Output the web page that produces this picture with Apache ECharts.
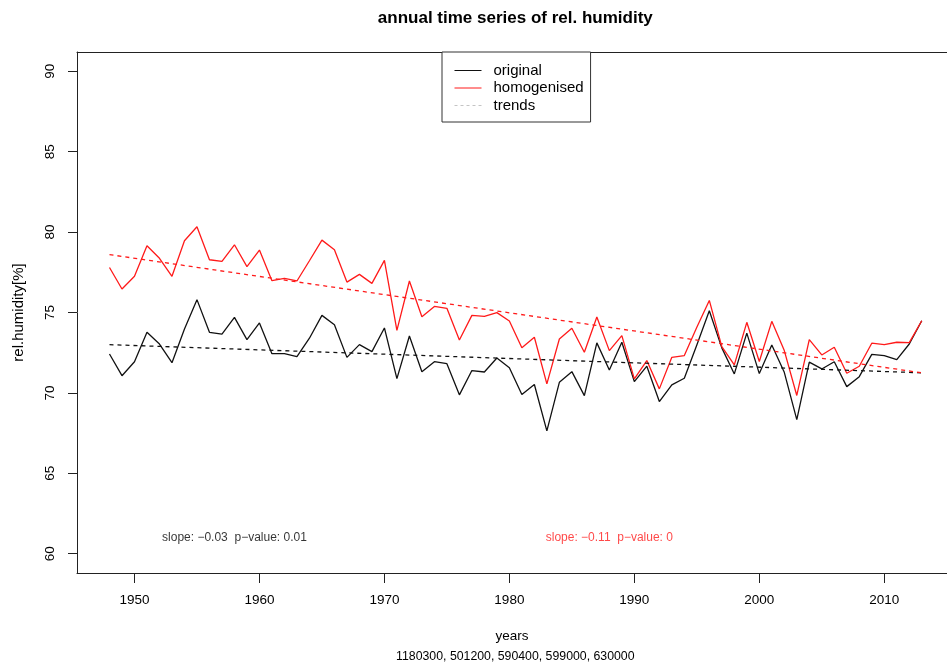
<!DOCTYPE html>
<html>
<head>
<meta charset="utf-8">
<title>annual time series of rel. humidity</title>
<script src="https://cdn.jsdelivr.net/npm/echarts@6/dist/echarts.min.js"></script>
<style>
  html, body { margin: 0; padding: 0; background: #fff; }
  #main { width: 947px; height: 662px; }
</style>
</head>
<body>
<div id="main"></div>
<script>
// Annual relative humidity, station series 1948-2013
const years = [
  1948, 1949, 1950, 1951, 1952, 1953, 1954, 1955, 1956, 1957, 1958,
  1959, 1960, 1961, 1962, 1963, 1964, 1965, 1966, 1967, 1968, 1969,
  1970, 1971, 1972, 1973, 1974, 1975, 1976, 1977, 1978, 1979, 1980,
  1981, 1982, 1983, 1984, 1985, 1986, 1987, 1988, 1989, 1990, 1991,
  1992, 1993, 1994, 1995, 1996, 1997, 1998, 1999, 2000, 2001, 2002,
  2003, 2004, 2005, 2006, 2007, 2008, 2009, 2010, 2011, 2012, 2013
];

const original = [
  72.42, 71.07, 71.94, 73.77, 73.04, 71.88, 73.98, 75.80, 73.77, 73.66, 74.70,
  73.31, 74.35, 72.44, 72.44, 72.26, 73.40, 74.82, 74.24, 72.21, 73.00, 72.57,
  74.04, 70.89, 73.54, 71.32, 71.94, 71.82, 69.88, 71.39, 71.30, 72.17, 71.57,
  69.90, 70.52, 67.64, 70.66, 71.32, 69.83, 73.11, 71.43, 73.15, 70.70, 71.66,
  69.46, 70.50, 70.91, 72.98, 75.11, 72.80, 71.18, 73.72, 71.20, 72.98, 71.28,
  68.34, 71.91, 71.49, 71.94, 70.39, 71.01, 72.40, 72.32, 72.07, 73.04, 74.49
];

const homogenised = [
  77.80, 76.46, 77.25, 79.15, 78.37, 77.25, 79.46, 80.33, 78.28, 78.18, 79.21,
  77.85, 78.88, 76.98, 77.12, 76.96, 78.22, 79.50, 78.90, 76.89, 77.37, 76.81,
  78.24, 73.89, 76.96, 74.74, 75.38, 75.26, 73.29, 74.82, 74.76, 74.99, 74.47,
  72.81, 73.46, 70.56, 73.35, 74.02, 72.53, 74.72, 72.63, 73.56, 70.87, 72.01,
  70.25, 72.21, 72.32, 74.08, 75.75, 72.88, 71.74, 74.39, 71.95, 74.45, 72.63,
  69.84, 73.31, 72.36, 72.84, 71.22, 71.66, 73.09, 73.00, 73.15, 73.13, 74.49
];

// Linear trends, start and end of the record
const trendYears = [1948, 2013];
const trendOriginal = [73.00, 71.25];
const trendHomogenised = [78.60, 71.25];

// Trend statistics
const slopeOriginal = -0.03;
const pValueOriginal = 0.01;
const slopeHomogenised = -0.11;
const pValueHomogenised = 0;

const xTicks = [1950, 1960, 1970, 1980, 1990, 2000, 2010];
const yTicks = [60, 65, 70, 75, 80, 85, 90];

const stationIds = ['1180300', '501200', '590400', '599000', '630000'];

const FONT = '"Liberation Sans", Arial, Helvetica, sans-serif';
const pairs = (xs, ys) => xs.map((x, i) => [x, ys[i]]);
const fmt = v => String(v).replace('-', '\u2212');
const statText = (s, p) => 'slope: ' + fmt(s) + '  p\u2212value: ' + fmt(p);

// x range padded 4% on the left; the right side of the frame runs past the canvas edge
const X_MIN = 1945.4, X_MAX = 2015.02;

const chart = echarts.init(document.getElementById('main'));

chart.setOption({
  animation: false,
  backgroundColor: '#fff',
  textStyle: { fontFamily: FONT },
  title: [
    {
      text: 'annual time series of rel. humidity',
      left: 510.3, top: 5, textAlign: 'center',
      textStyle: { fontFamily: FONT, fontSize: 17, fontWeight: 'bold', color: '#000' }
    },
    {
      text: stationIds.join(', '),
      left: 510.3, top: 646, textAlign: 'center',
      textStyle: { fontFamily: FONT, fontSize: 12.3, fontWeight: 'normal', color: '#000' }
    }
  ],
  grid: {
    left: 77, top: 52, right: 0, height: 521,
    show: false
  },
  legend: {
    data: ['original', 'homogenised', 'trends'],
    orient: 'vertical',
    left: 442, top: 52,
    itemWidth: 27, itemHeight: 14, itemGap: 2.5,
    padding: [11, 7, 9, 12],
    borderColor: '#333', borderWidth: 1, backgroundColor: '#fff',
    selectedMode: false,
    itemStyle: { opacity: 0 },
    lineStyle: { width: 1 },
    textStyle: { fontFamily: FONT, fontSize: 15, color: '#000', padding: [0, 0, 0, 7] }
  },
  xAxis: [
    {
      type: 'value',
      min: X_MIN, max: X_MAX,
      name: 'years', nameLocation: 'middle', nameGap: 56,
      nameTextStyle: { fontFamily: FONT, fontSize: 13.5, color: '#000' },
      axisLine: { show: true, onZero: false, lineStyle: { color: '#222', width: 1 } },
      axisTick: { show: true, length: 10, customValues: xTicks, lineStyle: { color: '#222' } },
      axisLabel: {
        customValues: xTicks, margin: 20, fontSize: 13.5, color: '#000', fontFamily: FONT,
        formatter: v => String(v)
      },
      splitLine: { show: false }
    },
    {
      // top edge of the plot frame
      type: 'value', position: 'top',
      min: X_MIN, max: X_MAX,
      axisLine: { show: true, onZero: false, lineStyle: { color: '#222', width: 1 } },
      axisTick: { show: false },
      axisLabel: { show: false },
      splitLine: { show: false }
    }
  ],
  yAxis: {
    type: 'value',
    min: 58.8, max: 91.2,
    name: 'rel.humidity[%]', nameLocation: 'middle', nameGap: 51, nameRotate: 90,
    nameTextStyle: { fontFamily: FONT, fontSize: 15, color: '#000' },
    axisLine: { show: true, lineStyle: { color: '#222', width: 1 } },
    axisTick: { show: true, length: 9, customValues: yTicks, lineStyle: { color: '#222' } },
    axisLabel: { customValues: yTicks, rotate: 90, margin: 20, fontSize: 13.5, color: '#000', fontFamily: FONT },
    splitLine: { show: false }
  },
  series: [
    {
      name: 'original', type: 'line',
      data: pairs(years, original),
      symbol: 'none', color: '#111',
      lineStyle: { color: '#111', width: 1.3 }, z: 3
    },
    {
      name: 'homogenised', type: 'line',
      data: pairs(years, homogenised),
      symbol: 'none', color: '#ff1a1a',
      lineStyle: { color: '#ff1a1a', width: 1.3 }, z: 4
    },
    {
      name: 'trend original', type: 'line',
      data: pairs(trendYears, trendOriginal),
      symbol: 'none', color: '#111',
      lineStyle: { color: '#111', width: 1.3, type: [4, 4] }, z: 5
    },
    {
      name: 'trend homogenised', type: 'line',
      data: pairs(trendYears, trendHomogenised),
      symbol: 'none', color: '#ff1a1a',
      lineStyle: { color: '#ff1a1a', width: 1.3, type: [4, 4] }, z: 5
    },
    {
      // legend entry for both trend lines
      name: 'trends', type: 'line', data: [],
      symbol: 'none', color: '#c4c4c4',
      lineStyle: { color: '#c4c4c4', width: 1, type: [3, 3] }
    },
    {
      name: 'statistics', type: 'scatter',
      symbolSize: 1, itemStyle: { color: 'transparent' },
      silent: true, z: 6,
      data: [
        { value: [1958, 61], label: { formatter: statText(slopeOriginal, pValueOriginal), color: '#000' } },
        { value: [1988, 61], label: { formatter: statText(slopeHomogenised, pValueHomogenised), color: '#ff1a1a' } }
      ],
      label: { show: true, position: 'inside', fontFamily: FONT, fontSize: 12 }
    }
  ]
});
</script>
</body>
</html>
